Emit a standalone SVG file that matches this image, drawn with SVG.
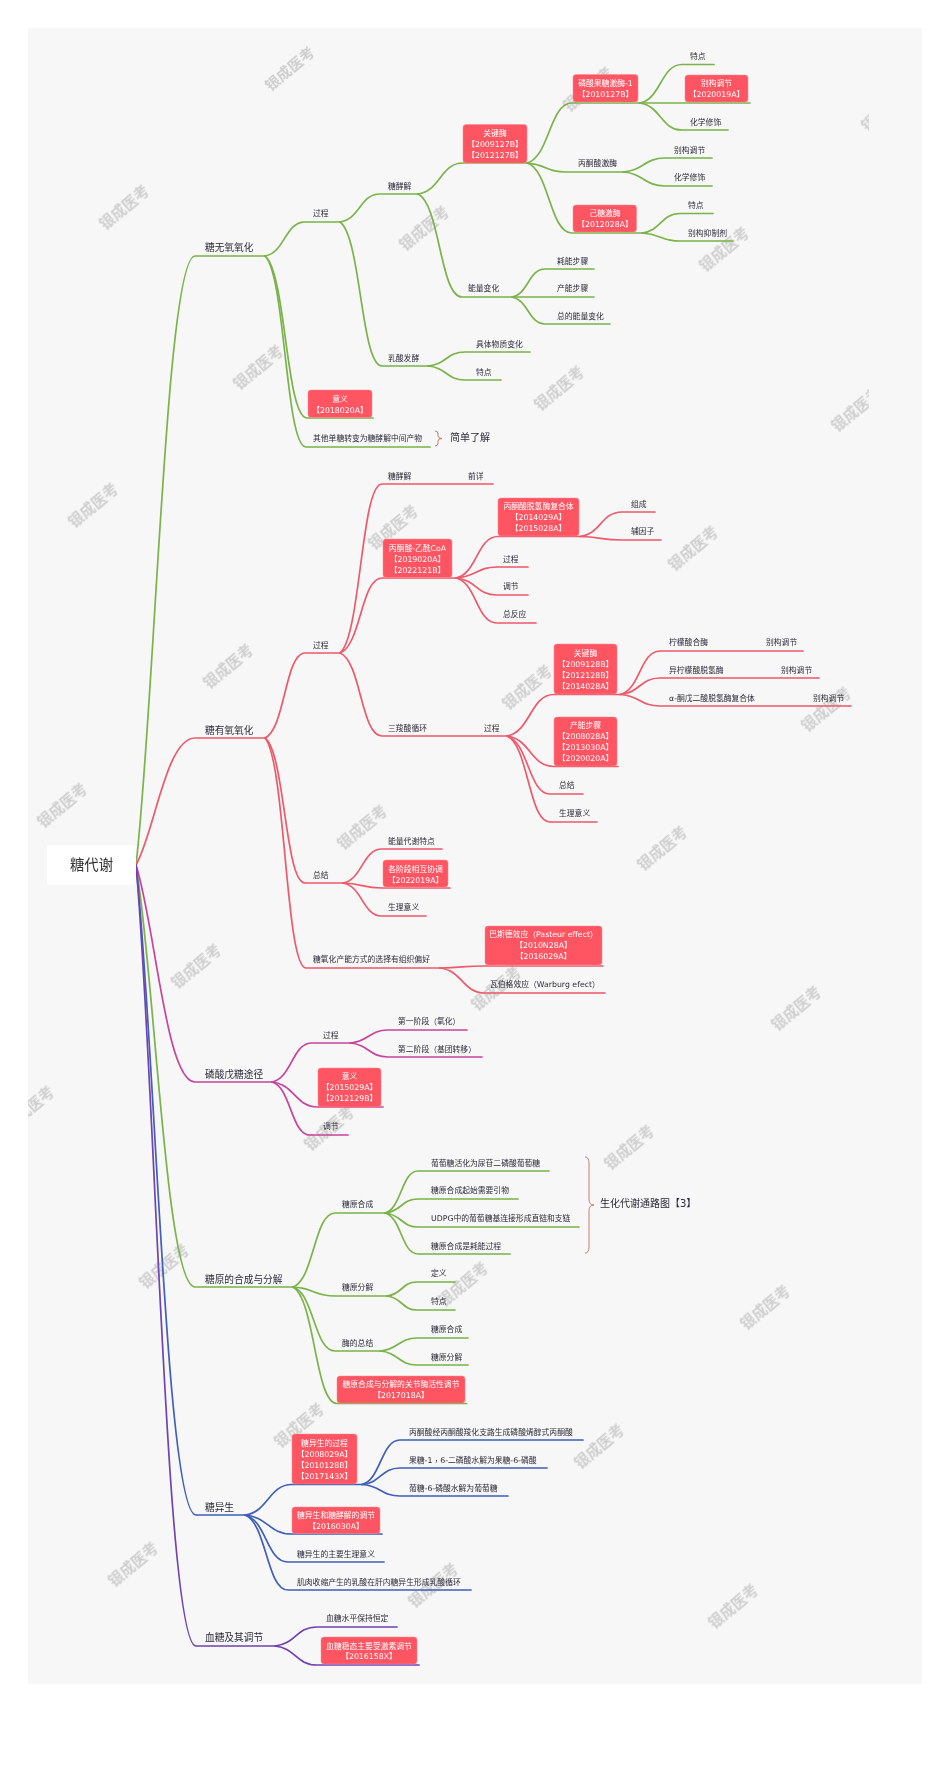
<svg xmlns="http://www.w3.org/2000/svg" width="950" height="1778" viewBox="0 0 950 1778">
<style>
text{font-family:"DejaVu Sans","Noto Sans CJK SC",sans-serif;dominant-baseline:central;fill:#2a2a38}
.t{font-size:7.8px}
.m{font-size:9.7px}
.b{font-size:10px}
.r{font-size:14.4px;text-anchor:middle;fill:#333}
.w{font-size:7.8px;text-anchor:middle;fill:#fff}
.box{fill:#ff5562;stroke:#ff8a92;stroke-width:.5}
.tc{font-family:"Noto Sans CJK TC",sans-serif}
.wm text{font-family:"Noto Sans CJK SC",sans-serif;font-size:14.8px;font-weight:700;fill:#cfcfcf;text-anchor:middle}
.c path{fill:none;stroke-width:1.7;stroke-linecap:round}
.g path{stroke:#7ab34a}
.e path{stroke:#ec5a6c}
.p path{stroke:#c8449c}
.u path{stroke:#3f5fb8}
.v path{stroke:#6f43b2}
.brace{fill:none;stroke:#c0604a;stroke-width:.8}
</style>
<defs>
<clipPath id="area"><rect x="28" y="28" width="841" height="1656"/></clipPath>
<filter id="soft" x="0" y="0" width="100%" height="100%"><feGaussianBlur stdDeviation="0.35"/></filter>
</defs>
<rect id="background" x="28" y="28" width="894" height="1656" fill="#f7f7f7"/>
<g id="watermarks" class="wm" clip-path="url(#area)" filter="url(#soft)">
<text transform="translate(289 68) rotate(-40)">银成医考</text>
<text transform="translate(587 88) rotate(-40)">银成医考</text>
<text transform="translate(885 108) rotate(-40)">银成医考</text>
<text transform="translate(123 206) rotate(-40)">银成医考</text>
<text transform="translate(423 227) rotate(-40)">银成医考</text>
<text transform="translate(723 248) rotate(-40)">银成医考</text>
<text transform="translate(257 366) rotate(-40)">银成医考</text>
<text transform="translate(558 387) rotate(-40)">银成医考</text>
<text transform="translate(855 408) rotate(-40)">银成医考</text>
<text transform="translate(92 504) rotate(-40)">银成医考</text>
<text transform="translate(392 526) rotate(-40)">银成医考</text>
<text transform="translate(692 547) rotate(-40)">银成医考</text>
<text transform="translate(227 665) rotate(-40)">银成医考</text>
<text transform="translate(526 686) rotate(-40)">银成医考</text>
<text transform="translate(825 708) rotate(-40)">银成医考</text>
<text transform="translate(61 804) rotate(-40)">银成医考</text>
<text transform="translate(361 826) rotate(-40)">银成医考</text>
<text transform="translate(661 847) rotate(-40)">银成医考</text>
<text transform="translate(195 965) rotate(-40)">银成医考</text>
<text transform="translate(495 987) rotate(-40)">银成医考</text>
<text transform="translate(795 1007) rotate(-40)">银成医考</text>
<text transform="translate(28 1107) rotate(-40)">银成医考</text>
<text transform="translate(328 1127) rotate(-40)">银成医考</text>
<text transform="translate(628 1146) rotate(-40)">银成医考</text>
<text transform="translate(163 1265) rotate(-40)">银成医考</text>
<text transform="translate(462 1283) rotate(-40)">银成医考</text>
<text transform="translate(764 1306) rotate(-40)">银成医考</text>
<text transform="translate(298 1424) rotate(-40)">银成医考</text>
<text transform="translate(598 1445) rotate(-40)">银成医考</text>
<text transform="translate(132 1563) rotate(-40)">银成医考</text>
<text transform="translate(432 1584) rotate(-40)">银成医考</text>
<text transform="translate(732 1605) rotate(-40)">银成医考</text>
</g>
<g id="connectors" class="c">
<g class="g">
<path d="M136 865c19 -164 30 -609 59 -609H265"/>
<path d="M265 256c20 -3.400 20 -34 40 -34H340"/>
<path d="M265 256c21 16 21 162 42 162H373"/>
<path d="M265 256c20.500 19 20.500 191 41 191H430"/>
<path d="M340 222c20 -2.800 20 -28 40 -28H418"/>
<path d="M340 222c21 14.400 21 144 42 144H428"/>
<path d="M418 194c22.500 -3 22.500 -31 45 -31H527"/>
<path d="M418 194c22 10 22 103 44 103H512"/>
<path d="M527 163c22.500 -6 22.500 -60 45 -60H640"/>
<path d="M527 163c19 1 19 9 38 9H623"/>
<path d="M527 163c22.500 7 22.500 70 45 70H642"/>
<path d="M640 103c21 -4 21 -38.500 42 -38.500H714"/>
<path d="M640 103H750"/>
<path d="M640 103c21 3 21 27 42 27H728"/>
<path d="M623 172c21 -1.400 21 -14 42 -14H712"/>
<path d="M623 172c21 1.400 21 14 42 14H712"/>
<path d="M642 233c19 -2 19 -19.500 38 -19.500H713"/>
<path d="M642 233c19 1 19 8 38 8H733"/>
<path d="M512 297c16.500 -3 16.500 -28 33 -28H594"/>
<path d="M512 297H594"/>
<path d="M512 297c16.500 3 16.500 27 33 27H610"/>
<path d="M428 366c18.500 -1.400 18.500 -14 37 -14H530"/>
<path d="M428 366c18.500 1.400 18.500 14 37 14H501"/>
<path d="M136 865c19 114 30 422 59 422H293"/>
<path d="M293 1287c21 -7 21 -74 42 -74H385"/>
<path d="M293 1287c21 1 21 9 42 9H387"/>
<path d="M293 1287c21 6 21 64 42 64H380"/>
<path d="M293 1287c22 12 22 116.500 44 116.500H466.500"/>
<path d="M385 1213c16.500 -4 16.500 -42 33 -42H549"/>
<path d="M385 1213c16.500 -1.400 16.500 -14 33 -14H518"/>
<path d="M385 1213c16.500 1.400 16.500 14 33 14H579"/>
<path d="M385 1213c16.500 4 16.500 41 33 41H510"/>
<path d="M387 1296c15 -1.400 15 -14 30 -14H455"/>
<path d="M387 1296c15 1.400 15 14 30 14H455"/>
<path d="M380 1351c18.500 -1.300 18.500 -13 37 -13H468"/>
<path d="M380 1351c18.500 1.400 18.500 14 37 14H468"/>
</g>
<g class="e">
<path d="M136 865c19 -34 30 -127 59 -127H265"/>
<path d="M265 738c20 -8.500 20 -85 40 -85H340"/>
<path d="M265 738c20 14.500 20 145 40 145H343"/>
<path d="M265 738c20.500 23 20.500 230 41 230H440"/>
<path d="M340 653c21 -17 21 -169 42 -169H493"/>
<path d="M340 653c21 -7.500 21 -75 42 -75H456"/>
<path d="M340 653c21 8 21 83 42 83H507"/>
<path d="M456 578c21 -4 21 -41.500 42 -41.500H580"/>
<path d="M456 578c20.500 -1 20.500 -11 41 -11H528"/>
<path d="M456 578c20.500 2 20.500 17 41 17H528"/>
<path d="M456 578c20.500 4.500 20.500 45 41 45H536"/>
<path d="M580 536.500c21 -2.500 21 -24.500 42 -24.500H655"/>
<path d="M580 536.500c21 .4 21 3.500 42 3.500H661"/>
<path d="M507 736c23.500 -4 23.500 -41.500 47 -41.500H620"/>
<path d="M507 736c23.500 3 23.500 30.500 47 30.500H618"/>
<path d="M507 736c21.500 6 21.500 58 43 58H583"/>
<path d="M507 736c21.500 9 21.500 86 43 86H597"/>
<path d="M620 694.500c20 -4 20 -43.500 40 -43.500H803"/>
<path d="M620 694.500c20 -1.600 20 -16.500 40 -16.500H819"/>
<path d="M620 694.500c20 1 20 11.500 40 11.500H851"/>
<path d="M343 883c19.500 -3.400 19.500 -34 39 -34H442"/>
<path d="M343 883c19.500 .5 19.500 5 39 5H450"/>
<path d="M343 883c19.500 3.300 19.500 33 39 33H426"/>
<path d="M440 968c22.500 -.2 22.500 -2 45 -2H603"/>
<path d="M440 968c22.500 2.500 22.500 25 45 25H605"/>
</g>
<g class="p">
<path d="M136 865c19 59 30 217 59 217H272"/>
<path d="M272 1082c20 -4 20 -39 40 -39H350"/>
<path d="M272 1082c23 2.500 23 25 46 25H383"/>
<path d="M272 1082c19 5 19 53 38 53H348"/>
<path d="M350 1043c19 -1.300 19 -13 38 -13H467"/>
<path d="M350 1043c19 1.400 19 14 38 14H482"/>
</g>
<g class="u">
<path d="M136 865c19 176 30 650 60 650H245"/>
<path d="M245 1515c23.500 -3 23.500 -30.500 47 -30.500H362"/>
<path d="M245 1515c23.500 2 23.500 19 47 19H382"/>
<path d="M245 1515c21.500 5 21.500 47 43 47H384"/>
<path d="M245 1515c21.500 7.500 21.500 75 43 75H471"/>
<path d="M362 1484.500c19 -4.500 19 -44.500 38 -44.500H583"/>
<path d="M362 1484.500c19 -1.600 19 -16.500 38 -16.500H547"/>
<path d="M362 1484.500c19 1 19 11.500 38 11.500H508"/>
</g>
<g class="v">
<path d="M136 865c19 211 30 781 60 781H275"/>
<path d="M275 1646c21 -2 21 -19 42 -19H397"/>
<path d="M275 1646c21 2 21 19 42 19H419"/>
</g>
</g>
<g id="root"><rect x="47" y="845" width="89" height="40" rx="3" fill="#fff"/><text class="r" x="91.500" y="865">糖代谢</text></g>
<g id="n-wuyang"><text class="m" x="205" y="247">糖无氧氧化</text></g>
<g id="n-wy-guocheng"><text class="t" x="313" y="213">过程</text></g>
<g id="n-wy-jiaojie"><text class="t" x="388" y="186">糖酵解</text></g>
<g id="n-wy-guanjian"><rect class="box" x="463" y="124.500" width="64" height="38.500" rx="3"/><text class="w" x="495" y="133">关键酶</text><text class="w" x="495" y="144">【2009127B】</text><text class="w" x="495" y="155">【2012127B】</text></g>
<g id="n-pfk"><rect class="box" x="573" y="74.500" width="65" height="27.500" rx="3"/><text class="w" x="605.500" y="83">磷酸果糖激酶-1</text><text class="w" x="605.500" y="94">【2010127B】</text></g>
<g id="n-pfk-1"><text class="t" x="690" y="56">特点</text></g>
<g id="n-pfk-2"><rect class="box" x="685" y="75" width="63" height="27" rx="3"/><text class="w" x="716.500" y="83">别构调节</text><text class="w" x="716.500" y="94">【2020019A】</text></g>
<g id="n-pfk-3"><text class="t" x="690" y="122">化学修饰</text></g>
<g id="n-pk"><text class="t" x="578" y="163">丙酮酸激酶</text></g>
<g id="n-pk-1"><text class="t" x="674" y="150">别构调节</text></g>
<g id="n-pk-2"><text class="t" x="674" y="177.500">化学修饰</text></g>
<g id="n-hk"><rect class="box" x="573" y="205" width="63.500" height="27" rx="3"/><text class="w" x="605" y="213">己糖激酶</text><text class="w" x="605" y="224">【2012028A】</text></g>
<g id="n-hk-1"><text class="t" x="688" y="205">特点</text></g>
<g id="n-hk-2"><text class="t" x="688" y="233">别构抑制剂</text></g>
<g id="n-nl"><text class="t" x="468" y="288.500">能量变化</text></g>
<g id="n-nl-1"><text class="t" x="557" y="261">耗能步骤</text></g>
<g id="n-nl-2"><text class="t" x="557" y="288.500">产能步骤</text></g>
<g id="n-nl-3"><text class="t" x="557" y="316">总的能量变化</text></g>
<g id="n-rs"><text class="t" x="388" y="358">乳酸发酵</text></g>
<g id="n-rs-1"><text class="t" x="476" y="344">具体物质变化</text></g>
<g id="n-rs-2"><text class="t" x="476" y="372">特点</text></g>
<g id="n-wy-yiyi"><rect class="box" x="308" y="390" width="64" height="27.500" rx="3"/><text class="w" x="340" y="399">意义</text><text class="w" x="340" y="410">【2018020A】</text></g>
<g id="n-wy-other"><text class="t" x="313" y="438">其他单糖转变为糖酵解中间产物</text></g>
<g id="n-jd"><path class="brace" d="M435 431q3 0 3 3v2q0 2.500 4 2.500q-4 0 -4 2.500v2q0 3 -3 3"/><text class="b" x="450" y="437">简单了解</text></g>
<g id="n-youyang"><text class="m" x="205" y="730">糖有氧氧化</text></g>
<g id="n-yy-guocheng"><text class="t" x="313" y="645">过程</text></g>
<g id="n-yy-jiaojie"><text class="t" x="388" y="476">糖酵解</text></g>
<g id="n-yy-qianxiang"><text class="t" x="468" y="476">前详</text></g>
<g id="n-yy-coa"><rect class="box" x="383" y="539" width="69" height="38.500" rx="3"/><text class="w" x="417.500" y="548">丙酮酸-乙酰CoA</text><text class="w" x="417.500" y="559">【2019020A】</text><text class="w" x="417.500" y="570">【2022121B】</text></g>
<g id="n-pdh"><rect class="box" x="498" y="498" width="81" height="38" rx="3"/><text class="w" x="538.500" y="506.500">丙酮酸脱氢酶复合体</text><text class="w" x="538.500" y="517">【2014029A】</text><text class="w" x="538.500" y="528">【2015028A】</text></g>
<g id="n-pdh-1"><text class="t" x="631" y="504">组成</text></g>
<g id="n-pdh-2"><text class="t" x="631" y="531">辅因子</text></g>
<g id="n-coa-1"><text class="t" x="503" y="559">过程</text></g>
<g id="n-coa-2"><text class="t" x="503" y="586.500">调节</text></g>
<g id="n-coa-3"><text class="t" x="503" y="614">总反应</text></g>
<g id="n-tca"><text class="t" x="388" y="728">三羧酸循环</text></g>
<g id="n-tca-gc"><text class="t" x="484" y="728">过程</text></g>
<g id="n-tca-gj"><rect class="box" x="554" y="644" width="63" height="50" rx="3"/><text class="w" x="585.500" y="653">关键酶</text><text class="w" x="585.500" y="664">【2009128B】</text><text class="w" x="585.500" y="675">【2012128B】</text><text class="w" x="585.500" y="686">【2014028A】</text></g>
<g id="n-cs"><text class="t" x="669" y="642.500">柠檬酸合酶</text><text class="t" x="766" y="642.500">别构调节</text></g>
<g id="n-idh"><text class="t" x="669" y="670">异柠檬酸脱氢酶</text><text class="t" x="781" y="670">别构调节</text></g>
<g id="n-kgdh"><text class="t" x="669" y="698">α-酮戊二酸脱氢酶复合体</text><text class="t" x="813" y="698">别构调节</text></g>
<g id="n-tca-cn"><rect class="box" x="554" y="717" width="63" height="49" rx="3"/><text class="w" x="585.500" y="725">产能步骤</text><text class="w" x="585.500" y="736">【2008028A】</text><text class="w" x="585.500" y="747">【2013030A】</text><text class="w" x="585.500" y="758">【2020020A】</text></g>
<g id="n-tca-zj"><text class="t" x="559" y="785.500">总结</text></g>
<g id="n-tca-sl"><text class="t" x="559" y="813.500">生理意义</text></g>
<g id="n-zj"><text class="t" x="313" y="875">总结</text></g>
<g id="n-zj-1"><text class="t" x="388" y="841">能量代谢特点</text></g>
<g id="n-zj-2"><rect class="box" x="383" y="860" width="65" height="27" rx="3"/><text class="w" x="415.500" y="869">各阶段相互协调</text><text class="w" x="415.500" y="880">【2022019A】</text></g>
<g id="n-zj-3"><text class="t" x="388" y="907">生理意义</text></g>
<g id="n-ph"><text class="t" x="313" y="959">糖氧化产能方式的选择有组织偏好</text></g>
<g id="n-pasteur"><rect class="box" x="485" y="926" width="117" height="39" rx="3"/><text class="w" x="543.500" y="934">巴斯德效应<tspan class="tc">（</tspan>Pasteur effect<tspan class="tc">）</tspan></text><text class="w" x="543.500" y="945">【2010N28A】</text><text class="w" x="543.500" y="956">【2016029A】</text></g>
<g id="n-warburg"><text class="t" x="490" y="984">瓦伯格效应<tspan class="tc">（</tspan>Warburg efect<tspan class="tc">）</tspan></text></g>
<g id="n-ppp"><text class="m" x="205" y="1074">磷酸戊糖途径</text></g>
<g id="n-ppp-gc"><text class="t" x="323" y="1035">过程</text></g>
<g id="n-ppp-1"><text class="t" x="398" y="1021">第一阶段<tspan class="tc">（</tspan>氧化<tspan class="tc">）</tspan></text></g>
<g id="n-ppp-2"><text class="t" x="398" y="1049">第二阶段<tspan class="tc">（</tspan>基团转移<tspan class="tc">）</tspan></text></g>
<g id="n-ppp-yy"><rect class="box" x="318" y="1068" width="63" height="39" rx="3"/><text class="w" x="349.500" y="1076">意义</text><text class="w" x="349.500" y="1087">【2015029A】</text><text class="w" x="349.500" y="1098">【2012129B】</text></g>
<g id="n-ppp-tj"><text class="t" x="323" y="1126">调节</text></g>
<g id="n-ty"><text class="m" x="205" y="1279">糖原的合成与分解</text></g>
<g id="n-hc"><text class="t" x="342" y="1204">糖原合成</text></g>
<g id="n-hc-1"><text class="t" x="431" y="1163">葡萄糖活化为尿苷二磷酸葡萄糖</text></g>
<g id="n-hc-2"><text class="t" x="431" y="1190">糖原合成起始需要引物</text></g>
<g id="n-hc-3"><text class="t" x="431" y="1218">UDPG中的葡萄糖基连接形成直链和支链</text></g>
<g id="n-hc-4"><text class="t" x="431" y="1246">糖原合成是耗能过程</text></g>
<g id="n-tl"><path class="brace" d="M585 1157q4 0 4 6v36q0 6 5 6q-5 0 -5 6v36q0 6 -4 6"/><text class="b" x="600" y="1203">生化代谢通路图【3】</text></g>
<g id="n-fj"><text class="t" x="342" y="1287">糖原分解</text></g>
<g id="n-fj-1"><text class="t" x="431" y="1273">定义</text></g>
<g id="n-fj-2"><text class="t" x="431" y="1301">特点</text></g>
<g id="n-mz"><text class="t" x="342" y="1343">酶的总结</text></g>
<g id="n-mz-1"><text class="t" x="431" y="1329">糖原合成</text></g>
<g id="n-mz-2"><text class="t" x="431" y="1357">糖原分解</text></g>
<g id="n-gj"><rect class="box" x="337" y="1376" width="128" height="27" rx="3"/><text class="w" x="401" y="1384">糖原合成与分解的关节酶活性调节</text><text class="w" x="401" y="1395">【2017018A】</text></g>
<g id="n-yis"><text class="m" x="205" y="1507">糖异生</text></g>
<g id="n-yis-gc"><rect class="box" x="292" y="1434" width="65" height="50" rx="3"/><text class="w" x="324.500" y="1443">糖异生的过程</text><text class="w" x="324.500" y="1454">【2008029A】</text><text class="w" x="324.500" y="1465">【2010128B】</text><text class="w" x="324.500" y="1476">【2017143X】</text></g>
<g id="n-yis-1"><text class="t" x="409" y="1432">丙酮酸经丙酮酸羧化支路生成磷酸烯醇式丙酮酸</text></g>
<g id="n-yis-2"><text class="t" x="409" y="1460">果糖-1<tspan class="tc">，</tspan>6-二磷酸水解为果糖-6-磷酸</text></g>
<g id="n-yis-3"><text class="t" x="409" y="1488">葡糖-6-磷酸水解为葡萄糖</text></g>
<g id="n-yis-tj"><rect class="box" x="292" y="1507" width="88" height="26.500" rx="3"/><text class="w" x="336" y="1515">糖异生和糖酵解的调节</text><text class="w" x="336" y="1526">【2016030A】</text></g>
<g id="n-yis-yy"><text class="t" x="297" y="1554">糖异生的主要生理意义</text></g>
<g id="n-yis-cori"><text class="t" x="297" y="1582">肌肉收缩产生的乳酸在肝内糖异生形成乳酸循环</text></g>
<g id="n-xt"><text class="m" x="205" y="1637">血糖及其调节</text></g>
<g id="n-xt-1"><text class="t" x="326" y="1618">血糖水平保持恒定</text></g>
<g id="n-xt-2"><rect class="box" x="321" y="1637" width="96" height="27" rx="3"/><text class="w" x="369" y="1646">血糖稳态主要受激素调节</text><text class="w" x="369" y="1656.500">【2016158X】</text></g>
</svg>
